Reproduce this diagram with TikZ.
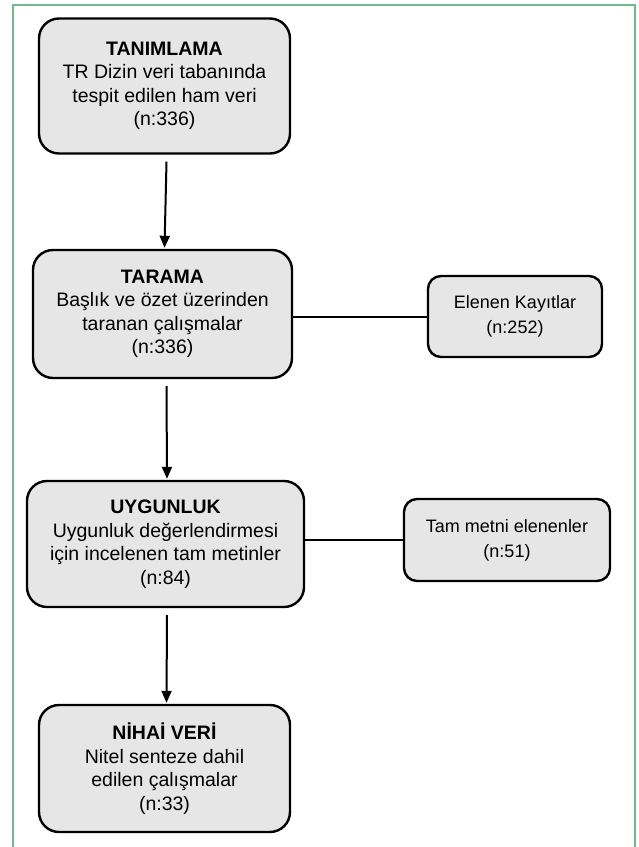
\documentclass[tikz,border=0pt]{standalone}
\usepackage{fontspec}
\setmainfont{Liberation Sans}
\usetikzlibrary{arrows.meta}
\definecolor{frameg}{RGB}{112,186,140}
\definecolor{boxfill}{RGB}{230,230,230}
\tikzset{
  stagebox/.style={draw=black, line width=2.4pt, fill=boxfill, rounded corners=20pt,
    inner sep=0pt, align=center, font=\fontsize{19.5}{23.5}\selectfont},
  sidebox/.style={draw=black, line width=2.4pt, fill=boxfill, rounded corners=13pt,
    inner sep=0pt, align=center, font=\fontsize{18}{25}\selectfont},
  flow/.style={line width=2pt, -{Triangle[width=10pt,length=12pt]}},
  link/.style={line width=2pt}
}
\begin{document}
\begin{tikzpicture}[x=1pt,y=-1pt]
\useasboundingbox (0,0) rectangle (639,847);
\draw[frameg, line width=2pt] (12.5,847) -- (12.5,4.5) -- (635,4.5) -- (635,847);

\node[stagebox, minimum width=251pt, minimum height=135pt] (tan) at (164.5,86)
  {\textbf{TANIMLAMA}\\TR Dizin veri tabanında\\tespit edilen ham veri\\(n:336)};
\node[stagebox, minimum width=259pt, minimum height=128pt] (tar) at (162.5,314)
  {\textbf{TARAMA}\\Başlık ve özet üzerinden\\taranan çalışmalar\\(n:336)};
\node[sidebox, minimum width=174pt, minimum height=81pt] (ele) at (515,316.5)
  {Elenen Kayıtlar\\(n:252)};
\node[stagebox, minimum width=277pt, minimum height=126pt] (uyg) at (165.5,544)
  {\textbf{UYGUNLUK}\\Uygunluk değerlendirmesi\\için incelenen tam metinler\\(n:84)};
\node[sidebox, minimum width=206pt, minimum height=82pt] (tam) at (507,540)
  {Tam metni elenenler\\(n:51)};
\node[stagebox, minimum width=251pt, minimum height=127pt] (nih) at (164.5,768.5)
  {\textbf{NİHAİ VERİ}\\Nitel senteze dahil\\edilen çalışmalar\\(n:33)};

\draw[flow] ([xshift=2pt,yshift=-7pt]tan.south) -- ([xshift=2pt,yshift=1pt]tar.north);
\draw[flow] ([xshift=4pt,yshift=-7pt]tar.south) -- ([xshift=1.5pt,yshift=1pt]uyg.north);
\draw[flow] ([xshift=1.5pt,yshift=-7pt]uyg.south) -- ([xshift=2pt,yshift=1pt]nih.north);

\draw[link] (tar.east |- ele.west) -- (ele.west);
\draw[link] (uyg.east |- tam.west) -- (tam.west);
\end{tikzpicture}
\end{document}
